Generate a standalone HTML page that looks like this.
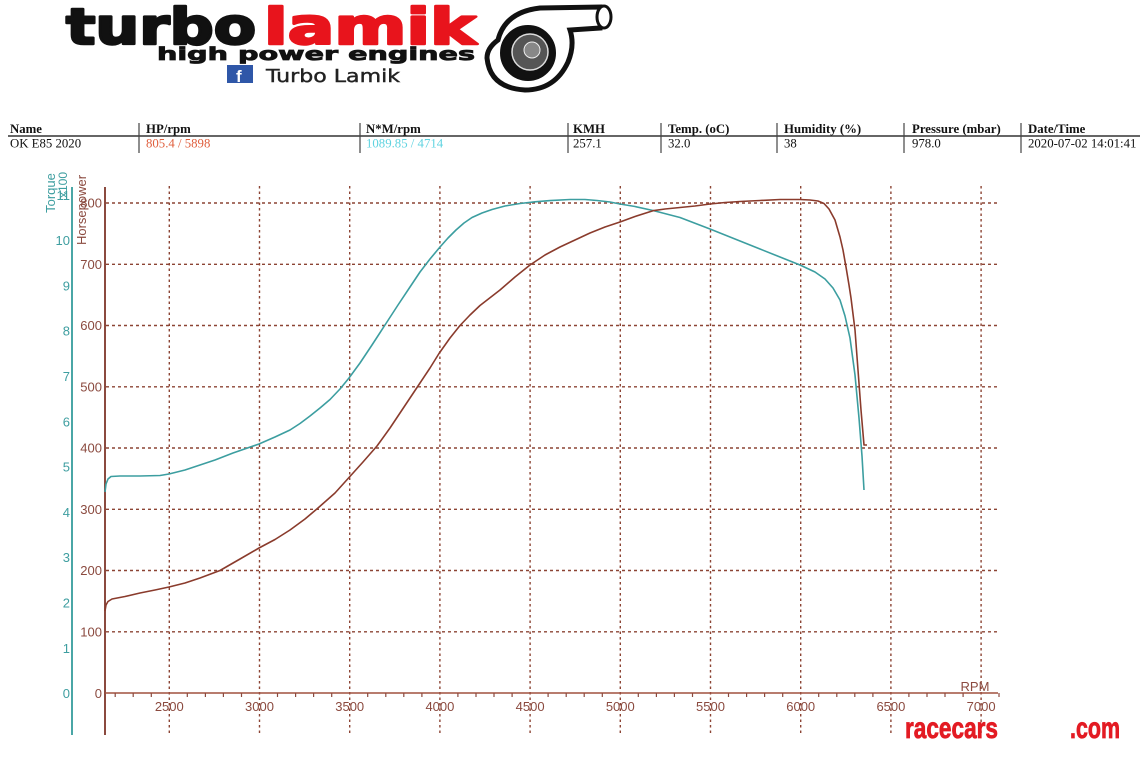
<!DOCTYPE html>
<html>
<head>
<meta charset="utf-8">
<style>
html,body{margin:0;padding:0;background:#fff;}
svg{display:block;}
</style>
</head>
<body>
<svg width="1140" height="758" viewBox="0 0 1140 758" xmlns="http://www.w3.org/2000/svg">
<rect x="0" y="0" width="1140" height="758" fill="#fff"/>

<!-- LOGO -->
<g font-family="'DejaVu Sans', 'Liberation Sans', sans-serif" font-weight="bold">
  <text x="66" y="44" font-size="50" fill="#111" stroke="#111" stroke-width="2.5" stroke-linejoin="round" textLength="190" lengthAdjust="spacingAndGlyphs">turbo</text>
  <text x="264" y="44" font-size="50" fill="#e8141c" stroke="#e8141c" stroke-width="2.5" stroke-linejoin="round" textLength="212" lengthAdjust="spacingAndGlyphs">lamik</text>
  <text x="157" y="60" font-size="18" fill="#111" stroke="#111" stroke-width="0.8" textLength="318" lengthAdjust="spacingAndGlyphs">high power engines</text>
</g>
<rect x="227" y="65" width="26" height="18" fill="#2f57a8"/>
<text x="236" y="82" font-family="'Liberation Sans', sans-serif" font-weight="bold" font-size="17" fill="#fff">f</text>
<text x="266" y="82" font-family="'DejaVu Sans', 'Liberation Sans', sans-serif" font-size="18" fill="#222" stroke="#222" stroke-width="0.4" textLength="134" lengthAdjust="spacingAndGlyphs">Turbo Lamik</text>
<!-- turbo graphic -->
<g stroke="#111" fill="#fff">
  <path d="M 498 40 Q 505 12 540 8 L 600 7 L 600 28 L 570 30 Q 575 45 568 62 Q 555 90 525 90 Q 490 88 487 58 Q 487 48 498 40 Z" stroke-width="5"/>
  <ellipse cx="604" cy="17" rx="7" ry="11" stroke-width="3"/>
  <circle cx="528" cy="53" r="27" fill="#111" stroke-width="2"/>
  <circle cx="530" cy="52" r="18" fill="#555" stroke="#ddd" stroke-width="1.5"/>
  <circle cx="532" cy="50" r="8" fill="#888" stroke="#eee" stroke-width="1"/>
</g>

<!-- HEADER TABLE -->
<g font-family="'Liberation Serif', serif" font-size="12.8" fill="#111">
  <g font-weight="bold">
    <text x="10" y="133">Name</text>
    <text x="146" y="133">HP/rpm</text>
    <text x="366" y="133">N*M/rpm</text>
    <text x="573" y="133">KMH</text>
    <text x="668" y="133">Temp. (oC)</text>
    <text x="784" y="133">Humidity (%)</text>
    <text x="912" y="133">Pressure (mbar)</text>
    <text x="1028" y="133">Date/Time</text>
  </g>
  <text x="10" y="147.5">OK E85 2020</text>
  <text x="146" y="147.5" fill="#e0603f">805.4 / 5898</text>
  <text x="366" y="147.5" fill="#5fd3e0">1089.85 / 4714</text>
  <text x="573" y="147.5">257.1</text>
  <text x="668" y="147.5">32.0</text>
  <text x="784" y="147.5"> 38</text>
  <text x="912" y="147.5">978.0</text>
  <text x="1028" y="147.5">2020-07-02 14:01:41</text>
</g>
<line x1="8" y1="136" x2="1140" y2="136" stroke="#333" stroke-width="1.5"/>
<g stroke="#444" stroke-width="1.2">
  <line x1="139" y1="123" x2="139" y2="153"/>
  <line x1="360" y1="123" x2="360" y2="153"/>
  <line x1="568" y1="123" x2="568" y2="153"/>
  <line x1="661" y1="123" x2="661" y2="153"/>
  <line x1="777" y1="123" x2="777" y2="153"/>
  <line x1="904" y1="123" x2="904" y2="153"/>
  <line x1="1021" y1="123" x2="1021" y2="153"/>
</g>

<!-- GRID -->
<g stroke="#8c4434" stroke-width="1.4" stroke-dasharray="3 3">
  <line x1="106" y1="631.8" x2="998" y2="631.8"/>
  <line x1="106" y1="570.5" x2="998" y2="570.5"/>
  <line x1="106" y1="509.3" x2="998" y2="509.3"/>
  <line x1="106" y1="448" x2="998" y2="448"/>
  <line x1="106" y1="386.8" x2="998" y2="386.8"/>
  <line x1="106" y1="325.5" x2="998" y2="325.5"/>
  <line x1="106" y1="264.3" x2="998" y2="264.3"/>
  <line x1="106" y1="203" x2="998" y2="203"/>
</g>
<g stroke="#8c4434" stroke-width="1.4" stroke-dasharray="2.5 3">
  <line x1="169.3" y1="186" x2="169.3" y2="736"/>
  <line x1="259.5" y1="186" x2="259.5" y2="736"/>
  <line x1="349.7" y1="186" x2="349.7" y2="736"/>
  <line x1="439.9" y1="186" x2="439.9" y2="736"/>
  <line x1="530.1" y1="186" x2="530.1" y2="736"/>
  <line x1="620.3" y1="186" x2="620.3" y2="736"/>
  <line x1="710.5" y1="186" x2="710.5" y2="736"/>
  <line x1="800.7" y1="186" x2="800.7" y2="736"/>
  <line x1="890.9" y1="186" x2="890.9" y2="736"/>
  <line x1="981.1" y1="186" x2="981.1" y2="736"/>
</g>

<!-- AXES -->
<line x1="72" y1="187" x2="72" y2="735" stroke="#4aa6a6" stroke-width="2"/>
<line x1="105" y1="187" x2="105" y2="735" stroke="#8b4a3f" stroke-width="2"/>
<line x1="105" y1="693" x2="998" y2="693" stroke="#a0503f" stroke-width="1.6"/>
<g stroke="#8b4a3f" stroke-width="1.2">
  <line x1="115.2" y1="693" x2="115.2" y2="697"/><line x1="133.2" y1="693" x2="133.2" y2="697"/><line x1="151.3" y1="693" x2="151.3" y2="697"/>
  <line x1="187.3" y1="693" x2="187.3" y2="697"/><line x1="205.4" y1="693" x2="205.4" y2="697"/><line x1="223.4" y1="693" x2="223.4" y2="697"/><line x1="241.5" y1="693" x2="241.5" y2="697"/>
  <line x1="277.5" y1="693" x2="277.5" y2="697"/><line x1="295.6" y1="693" x2="295.6" y2="697"/><line x1="313.6" y1="693" x2="313.6" y2="697"/><line x1="331.7" y1="693" x2="331.7" y2="697"/>
  <line x1="367.7" y1="693" x2="367.7" y2="697"/><line x1="385.8" y1="693" x2="385.8" y2="697"/><line x1="403.8" y1="693" x2="403.8" y2="697"/><line x1="421.9" y1="693" x2="421.9" y2="697"/>
  <line x1="457.9" y1="693" x2="457.9" y2="697"/><line x1="476" y1="693" x2="476" y2="697"/><line x1="494" y1="693" x2="494" y2="697"/><line x1="512.1" y1="693" x2="512.1" y2="697"/>
  <line x1="548.1" y1="693" x2="548.1" y2="697"/><line x1="566.2" y1="693" x2="566.2" y2="697"/><line x1="584.2" y1="693" x2="584.2" y2="697"/><line x1="602.3" y1="693" x2="602.3" y2="697"/>
  <line x1="638.3" y1="693" x2="638.3" y2="697"/><line x1="656.4" y1="693" x2="656.4" y2="697"/><line x1="674.4" y1="693" x2="674.4" y2="697"/><line x1="692.5" y1="693" x2="692.5" y2="697"/>
  <line x1="728.5" y1="693" x2="728.5" y2="697"/><line x1="746.6" y1="693" x2="746.6" y2="697"/><line x1="764.6" y1="693" x2="764.6" y2="697"/><line x1="782.7" y1="693" x2="782.7" y2="697"/>
  <line x1="818.7" y1="693" x2="818.7" y2="697"/><line x1="836.8" y1="693" x2="836.8" y2="697"/><line x1="854.8" y1="693" x2="854.8" y2="697"/><line x1="872.9" y1="693" x2="872.9" y2="697"/>
  <line x1="908.9" y1="693" x2="908.9" y2="697"/><line x1="927" y1="693" x2="927" y2="697"/><line x1="945" y1="693" x2="945" y2="697"/><line x1="963.1" y1="693" x2="963.1" y2="697"/>
  <line x1="999" y1="693" x2="999" y2="697"/>
</g>

<!-- AXIS LABELS -->
<g font-family="'Liberation Sans', sans-serif" font-size="13" fill="#8b4a3f" text-anchor="end">
  <text x="102" y="698">0</text>
  <text x="102" y="636.3">100</text>
  <text x="102" y="575">200</text>
  <text x="102" y="513.8">300</text>
  <text x="102" y="452.5">400</text>
  <text x="102" y="391.3">500</text>
  <text x="102" y="330">600</text>
  <text x="102" y="268.8">700</text>
  <text x="102" y="207.5">800</text>
</g>
<g font-family="'Liberation Sans', sans-serif" font-size="13" fill="#3e9ea0" text-anchor="end">
  <text x="70" y="698">0</text>
  <text x="70" y="653">1</text>
  <text x="70" y="607.5">2</text>
  <text x="70" y="562">3</text>
  <text x="70" y="517">4</text>
  <text x="70" y="471.6">5</text>
  <text x="70" y="426.3">6</text>
  <text x="70" y="381">7</text>
  <text x="70" y="335.7">8</text>
  <text x="70" y="290.4">9</text>
  <text x="70" y="245">10</text>
  <text x="70" y="200">11</text>
</g>
<g font-family="'Liberation Sans', sans-serif" font-size="13" fill="#8b4a3f" text-anchor="middle">
  <text x="169.3" y="711">2500</text>
  <text x="259.5" y="711">3000</text>
  <text x="349.7" y="711">3500</text>
  <text x="439.9" y="711">4000</text>
  <text x="530.1" y="711">4500</text>
  <text x="620.3" y="711">5000</text>
  <text x="710.5" y="711">5500</text>
  <text x="800.7" y="711">6000</text>
  <text x="890.9" y="711">6500</text>
  <text x="981.1" y="711">7000</text>
  <text x="975" y="691">RPM</text>
</g>
<text transform="translate(55,193) rotate(-90)" font-family="'Liberation Sans', sans-serif" font-size="13" fill="#3e9ea0" text-anchor="middle">Torque</text>
<text transform="translate(67,185) rotate(-90)" font-family="'Liberation Sans', sans-serif" font-size="12" fill="#3e9ea0" text-anchor="middle">x100</text>
<text transform="translate(86,210) rotate(-90)" font-family="'Liberation Sans', sans-serif" font-size="13" fill="#8b4a3f" text-anchor="middle">Horsepower</text>

<!-- CURVES -->
<polyline fill="none" stroke="#3c9ea0" stroke-width="1.6" stroke-linejoin="round" points="105,492 106,484 108,479 111,476.5 120,476 140,476 160,475.5 169,474 185,470 200,465 215,460 233,453 259,444 275,437 290,430 300,423.5 310,416 320,408 330,399.5 340,389 349,378 360,363 372,345 385,325 398,305 410,287 420,272 430,259 440,247 448,238 456,230 464,223 472,217.5 482,213 492,209.5 505,206 520,203.5 535,201.8 550,200.6 570,199.5 585,199.5 597,200.5 610,202 620,204 635,206.5 653,210.5 680,217.5 710,229 740,241 760,249 780,257 800,265 815,272 825,279 833,288 840,300 845,316 850,338 855,375 859,418 862,456 864,490"/>
<polyline fill="none" stroke="#8a3b2c" stroke-width="1.6" stroke-linejoin="round" points="105,611 106,605 108,601.5 112,599 125,596.5 140,593 155,590 169,587 185,583 200,578 220,570.5 240,559 259,548 275,539.5 290,530 305,519 318,508 335,493 349,477.5 363,462 377,446 390,428 400,413 410,398 420,383 430,368 439,353.5 450,338 460,325.5 470,315 480,305.5 500,290 515,277 530,265 545,255 560,247 575,240 590,233 605,227 620,222 635,216.5 653,210.7 665,209 680,207.5 695,206 710,204 725,202.5 740,201.5 760,200.5 780,199.5 800,199.5 810,200 818,201 824,203.5 829,209 835,220 840,237 843,250 846,267 849,285 851,298 855,330 858,370 861,410 864,445 867,445"/>

<!-- WATERMARK -->
<g font-family="'Liberation Sans', sans-serif" font-weight="bold" font-size="30" fill="#e31b23" stroke="#e31b23" stroke-width="0.8">
  <text x="905" y="738" textLength="93" lengthAdjust="spacingAndGlyphs">racecars</text>
  <text x="1070" y="738" textLength="50" lengthAdjust="spacingAndGlyphs">.com</text>
</g>
</svg>
</body>
</html>
